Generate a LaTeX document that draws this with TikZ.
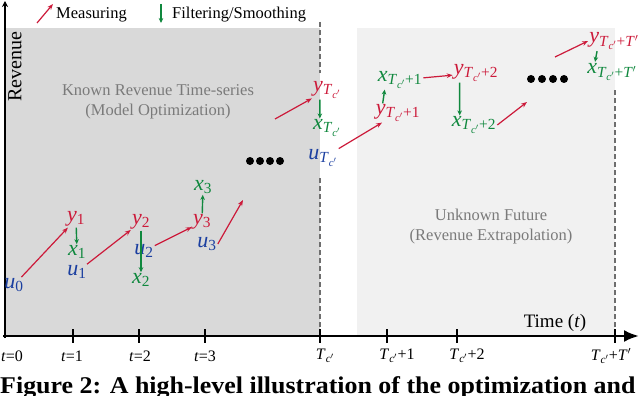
\documentclass[tikz,border=0pt]{standalone}
\usepackage{fontspec}
\setmainfont{Liberation Serif}
\usepackage{xcolor}
\usepackage{tikz}
\usetikzlibrary{positioning,arrows.meta}
\definecolor{RevRed}{HTML}{CC1A3A}
\definecolor{RevGreen}{HTML}{10883E}
\definecolor{RevBlue}{HTML}{1B3FA0}
\definecolor{RevDark}{HTML}{D9D9D9}
\definecolor{RevLight}{HTML}{F1F1F1}
\definecolor{RevDash}{HTML}{6E6E6E}
\definecolor{RevMuted}{HTML}{7A7A7A}
\newcommand{\revsym}[2]{\textit{#1}\textsubscript{#2}}
\newcommand{\revTc}{\textit{T}\textsubscript{\textit{c}$'$}}

\begin{document}
\begin{tikzpicture}[x=1pt,y=-1pt]
  \tikzset{
    knownpanel/.style={fill=RevDark},
    futurepanel/.style={fill=RevLight},
    bounddash/.style={
      draw=RevDash,
      line width=1.3pt,
      dash pattern=on 5pt off 3pt
    },
    revaxis/.style={
      draw=black,
      line width=2.6pt
    },
    revtick/.style={draw=black,line width=2.6pt},
    measarrow/.style={
      -{Stealth[length=6pt,width=4.6pt]},
      draw=RevRed,
      line width=1.2pt
    },
    filtarrow/.style={
      -{Stealth[length=5pt,width=4.6pt]},
      draw=RevGreen,
      line width=1.4pt
    },
    revval/.style={inner sep=1pt,font=\fontsize{22}{22}\selectfont},
    measval/.style={revval,text=RevRed},
    filtval/.style={revval,text=RevGreen},
    ctrlval/.style={revval,text=RevBlue},
    regiontext/.style={font=\fontsize{16.5}{20}\selectfont,text=RevMuted,align=center},
    keytext/.style={font=\fontsize{16.5}{18}\selectfont,anchor=west,inner sep=0pt},
    ticklabel/.style={font=\fontsize{16}{16}\selectfont,inner sep=0pt}
  }
  \useasboundingbox (0,0) rectangle (640,396);

  % ------------------------------------------------------------------
  % Regions: known series and unknown future
  % ------------------------------------------------------------------
  \fill[knownpanel] (5,28) rectangle (320,335);
  \fill[futurepanel] (357,28) rectangle (615,335);
  \draw[bounddash] (320,22) -- (320,73);
  \draw[bounddash] (320,178) -- (320,335);
  \draw[bounddash] (615,90) -- (615,335);

  \node[regiontext] (known) at (158,102)
    {Known Revenue Time-series\\(Model Optimization)};
  \node[regiontext] (future) at (491,227)
    {Unknown Future\\(Revenue Extrapolation)};

  % ------------------------------------------------------------------
  % Axes and ticks
  % ------------------------------------------------------------------
  \draw[revaxis,-{Stealth[length=6pt,width=6pt]}] (5,338) -- (5,1);
  \draw[revaxis,-{Latex[length=15pt,width=12pt]}] (3,336) -- (639,336);
  \draw[revtick] (73,329) -- (73,343);
  \draw[revtick] (139,329) -- (139,343);
  \draw[revtick] (205,329) -- (205,343);
  \draw[revtick] (320,329) -- (320,343);
  \draw[revtick] (387,329) -- (387,343);
  \draw[revtick] (457,329) -- (457,343);
  \draw[revtick] (615,329) -- (615,343);

  \node[font=\fontsize{20}{20}\selectfont,rotate=90] (revenue) at (15,67) {Revenue};
  \node[font=\fontsize{19}{20}\selectfont] (time) at (555,323) {Time (\textit{t})};

  \node[ticklabel] (t0) at (12,356) {\textit{t}=0};
  \node[ticklabel] (t1) at (72,356) {\textit{t}=1};
  \node[ticklabel] (t2) at (140,356) {\textit{t}=2};
  \node[ticklabel] (t3) at (205,356) {\textit{t}=3};
  \node[ticklabel] (tc) at (325,356) {\revTc};
  \node[ticklabel] (tc1) at (397,356) {\revTc+1};
  \node[ticklabel] (tc2) at (467,356) {\revTc+2};
  \node[ticklabel] (tcT) at (611,356) {\revTc+\textit{T}$'$};

  % ------------------------------------------------------------------
  % Legend
  % ------------------------------------------------------------------
  \coordinate (keyMeasA) at (37,23);
  \coordinate (keyMeasB) at (53,4);
  \coordinate (keyFiltA) at (161,4);
  \coordinate (keyFiltB) at (161,23);
  \draw[measarrow] (keyMeasA) -- (keyMeasB);
  \node[keytext] (keymeas) at (56,15) {Measuring};
  \draw[filtarrow] (keyFiltA) -- (keyFiltB);
  \node[keytext] (keyfilt) at (172,15) {Filtering/Smoothing};

  % ------------------------------------------------------------------
  % Known part of the series
  % ------------------------------------------------------------------
  \node[ctrlval] (u0) at (14,285) {\revsym{u}{0}};
  \node[measval] (y1) at (76,219) {\revsym{y}{1}};
  \node[filtval] (x1) at (77,252) {\revsym{x}{1}};
  \node[ctrlval] (u1) at (77,272) {\revsym{u}{1}};
  \node[measval] (y2) at (141,222) {\revsym{y}{2}};
  \node[ctrlval] (u2) at (144,251) {\revsym{u}{2}};
  \node[filtval] (x2) at (141,280) {\revsym{x}{2}};
  \node[measval] (y3) at (202,222) {\revsym{y}{3}};
  \node[ctrlval] (u3) at (207,244) {\revsym{u}{3}};
  \node[filtval] (x3) at (203,187) {\revsym{x}{3}};

  \draw[measarrow] (u0) -- (y1);
  \draw[filtarrow] (y1) -- (x1);
  \draw[measarrow] (u1) -- (y2);
  \draw[filtarrow] (y2) -- (x2);
  \draw[measarrow] (u2) -- (y3);
  \draw[filtarrow] (y3) -- (x3);

  \coordinate (gapIn) at (243,200);
  \coordinate (gapOut) at (275,119);
  \draw[measarrow] (u3.east) -- (gapIn);
  \fill (250,161) circle (4pt);
  \fill (260,161) circle (4pt);
  \fill (270,161) circle (4pt);
  \fill (280,161) circle (4pt);

  \node[measval] (yTc) at (327,90) {\revsym{y}{\revTc}};
  \node[filtval] (xTc) at (327,128) {\revsym{x}{\revTc}};
  \node[ctrlval] (uTc) at (323,158) {\revsym{u}{\revTc}};
  \draw[measarrow] (gapOut) -- (yTc);
  \draw[filtarrow] ([xshift=8pt]yTc.south west) -- ([xshift=8pt]xTc.north west);

  % ------------------------------------------------------------------
  % Extrapolated part of the series
  % ------------------------------------------------------------------
  \node[measval] (yTc1) at (398,113) {\revsym{y}{\revTc+1}};
  \node[filtval] (xTc1) at (400,80) {\revsym{x}{\revTc+1}};
  \node[measval] (yTc2) at (476,73) {\revsym{y}{\revTc+2}};
  \node[filtval] (xTc2) at (474,125) {\revsym{x}{\revTc+2}};
  \node[measval] (yTcT) at (614,41) {\revsym{y}{\revTc+\textit{T}$'$}};
  \node[filtval] (xTcT) at (612,72) {\revsym{x}{\revTc+\textit{T}$'$}};

  \draw[measarrow] (uTc) -- (yTc1);
  \draw[filtarrow] ([xshift=8pt]yTc1.north west) -- ([xshift=8pt]xTc1.south west);
  \draw[measarrow] (xTc1) -- (yTc2);
  \draw[filtarrow] ([xshift=7pt]yTc2.south west) -- ([xshift=9pt]xTc2.north west);

  \coordinate (tailIn) at (527,102);
  \coordinate (tailOut) at (555,57);
  \draw[measarrow] (xTc2.east) -- (tailIn);
  \fill (531,79) circle (4pt);
  \fill (542,79) circle (4pt);
  \fill (553,79) circle (4pt);
  \fill (564,79) circle (4pt);
  \draw[measarrow] (tailOut) -- (yTcT.west);
  \draw[filtarrow] ([xshift=9pt]yTcT.south west) -- ([xshift=9pt]xTcT.north west);

  % Caption line, cut by the page edge.
  \node[font=\bfseries\fontsize{24}{24}\selectfont,anchor=base west,inner sep=0pt,
    xscale=1.08,transform shape]
    (caption) at (0,393) {Figure 2: A high-level illustration of the optimization and};
\end{tikzpicture}
\end{document}
